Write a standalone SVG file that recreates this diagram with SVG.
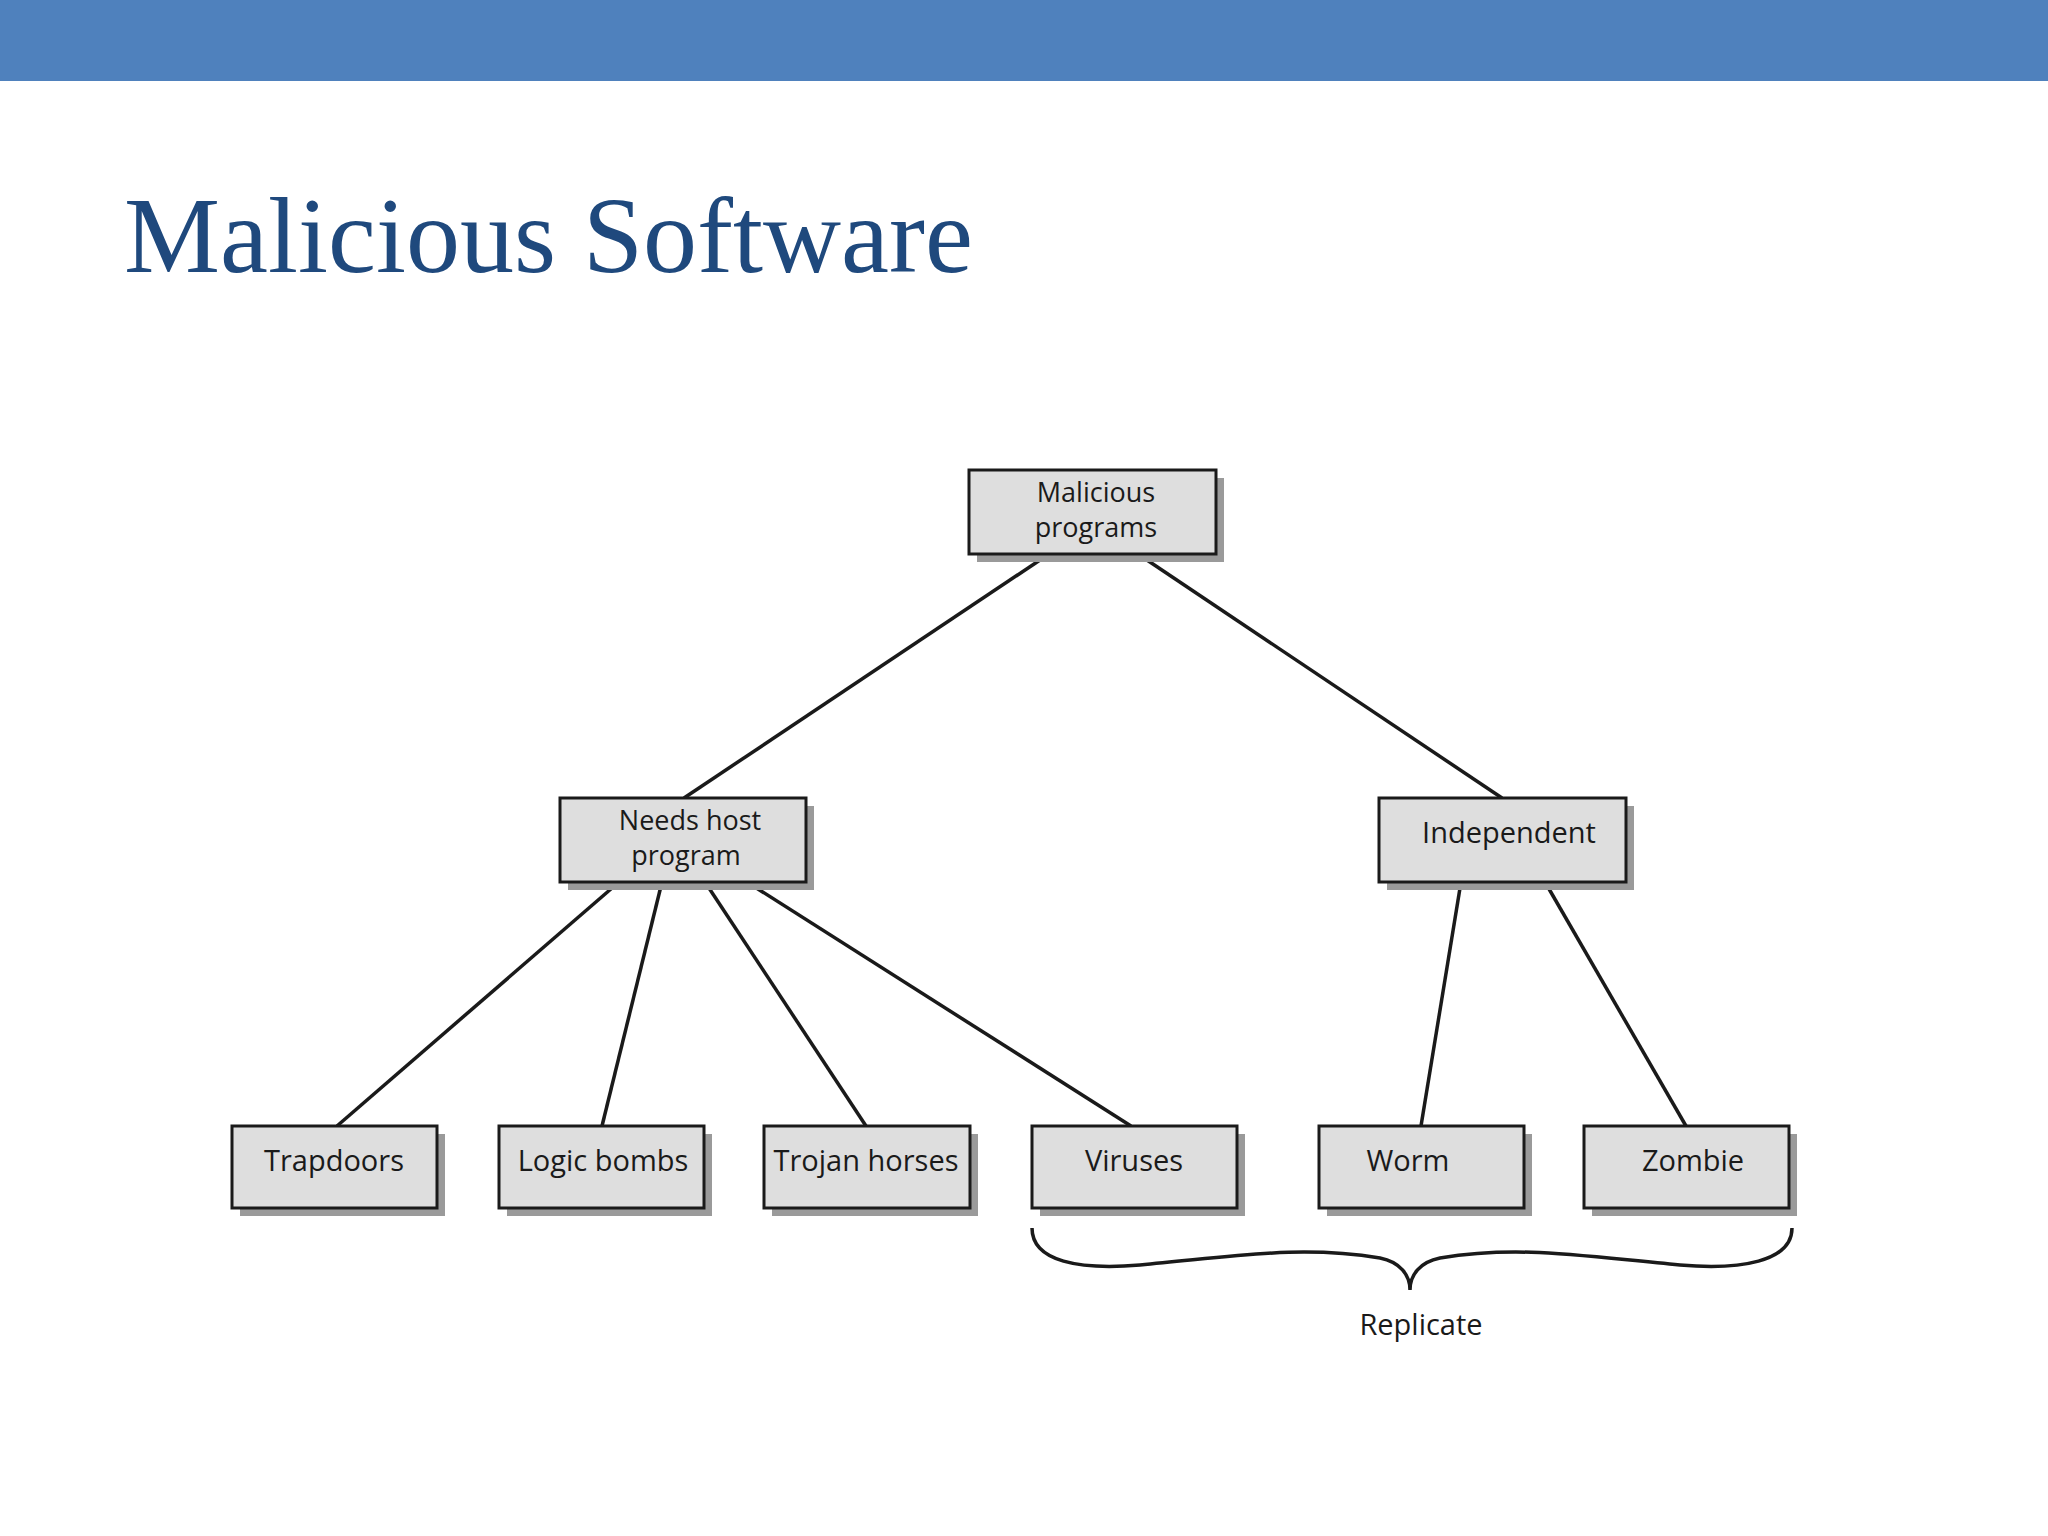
<svg xmlns="http://www.w3.org/2000/svg" width="2048" height="1536" viewBox="0 0 2048 1536">
<style>
.box{fill:#dedede;stroke:#1a1a1a;stroke-width:3}
.sh{fill:#9a9a9a}
.t{font-family:"Open Sans","Liberation Sans",sans-serif;font-size:29px;fill:#1a1a1a;text-anchor:middle}
.t2{font-size:27px}
.c{stroke:#1a1a1a;stroke-width:3.5;fill:none}
</style>
<rect width="2048" height="1536" fill="#fff"/>
<rect width="2048" height="81" fill="#4f81bd"/>
<text x="124" y="272" font-family="Liberation Serif,serif" font-size="108" fill="#1f497d">Malicious Software</text>
<g id="connectors">
<line class="c" x1="1049" y1="554" x2="684" y2="798"/>
<line class="c" x1="1138" y1="554" x2="1502" y2="798"/>
<line class="c" x1="619" y1="882" x2="337" y2="1126"/>
<line class="c" x1="662" y1="882" x2="602" y2="1126"/>
<line class="c" x1="705" y1="882" x2="866" y2="1126"/>
<line class="c" x1="747" y1="882" x2="1131" y2="1126"/>
<line class="c" x1="1461" y1="882" x2="1421" y2="1126"/>
<line class="c" x1="1545" y1="882" x2="1686" y2="1126"/>
</g>
<g id="mal"><rect class="sh" x="977" y="478" width="247" height="84"/><rect class="box" x="969" y="470" width="247" height="84"/><text class="t t2" x="1096" y="502">Malicious</text><text class="t t2" x="1096" y="537">programs</text></g>
<g id="needs"><rect class="sh" x="568" y="806" width="246" height="84"/><rect class="box" x="560" y="798" width="246" height="84"/><text class="t t2" x="690" y="830">Needs host</text><text class="t t2" x="686" y="865">program</text></g>
<g id="indep"><rect class="sh" x="1387" y="806" width="247" height="84"/><rect class="box" x="1379" y="798" width="247" height="84"/><text class="t" x="1509" y="843">Independent</text></g>
<g id="trap"><rect class="sh" x="240" y="1134" width="205" height="82"/><rect class="box" x="232" y="1126" width="205" height="82"/><text class="t" x="334" y="1171">Trapdoors</text></g>
<g id="logic"><rect class="sh" x="507" y="1134" width="205" height="82"/><rect class="box" x="499" y="1126" width="205" height="82"/><text class="t" x="603" y="1171">Logic bombs</text></g>
<g id="trojan"><rect class="sh" x="772" y="1134" width="206" height="82"/><rect class="box" x="764" y="1126" width="206" height="82"/><text class="t" x="866" y="1171">Trojan horses</text></g>
<g id="viruses"><rect class="sh" x="1040" y="1134" width="205" height="82"/><rect class="box" x="1032" y="1126" width="205" height="82"/><text class="t" x="1134" y="1171">Viruses</text></g>
<g id="worm"><rect class="sh" x="1327" y="1134" width="205" height="82"/><rect class="box" x="1319" y="1126" width="205" height="82"/><text class="t" x="1408" y="1171">Worm</text></g>
<g id="zombie"><rect class="sh" x="1592" y="1134" width="205" height="82"/><rect class="box" x="1584" y="1126" width="205" height="82"/><text class="t" x="1693" y="1171">Zombie</text></g>
<g id="brace">
<path class="c" stroke-width="3" d="M1032,1228 C1032,1262 1080,1270 1140,1265 C1240,1256 1300,1245 1380,1258 C1400,1262 1410,1275 1410,1290 C1410,1275 1420,1262 1440,1258 C1520,1245 1580,1256 1680,1265 C1740,1270 1792,1262 1792,1228"/>
<text class="t" x="1421" y="1335">Replicate</text>
</g>
</svg>
